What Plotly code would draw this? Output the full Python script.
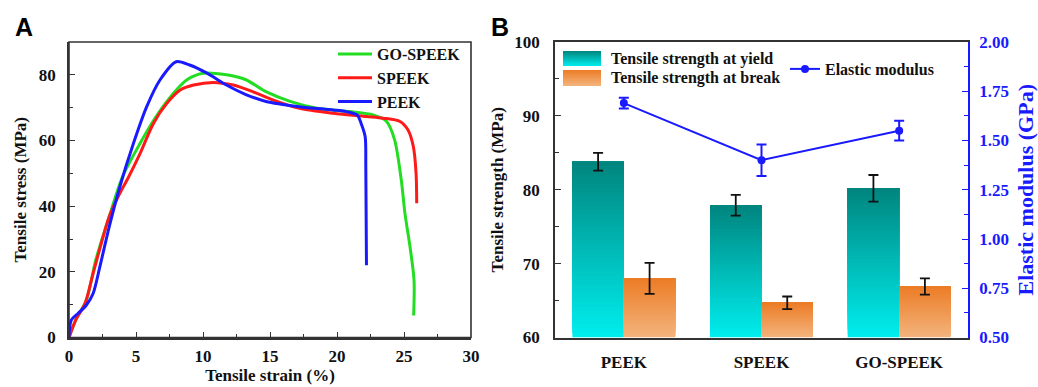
import plotly.graph_objects as go

# ---------------- Panel A data: stress-strain curves ----------------
strain_gospeek = [0, 0.5, 1.3, 2.0, 3.0, 4.0, 5.3, 6.5, 7.8, 8.8, 10.0, 11.75, 13.2, 14.7, 16.5,
                  18.5, 20.95, 22.7, 23.7, 24.3, 24.8, 25.07, 25.45, 25.75, 25.72]
stress_gospeek = [0, 5.3, 11.4, 23.6, 36.8, 49.0, 59.1, 67.3, 74.4, 78.5, 80.5, 80.0, 78.5, 74.9, 71.9,
                  69.8, 68.8, 67.8, 65.8, 60.2, 47.9, 37.8, 27.6, 17.4, 6.7]

strain_speek = [0, 0.5, 1.2, 1.8, 3.0, 3.8, 4.4, 5.3, 6.3, 7.3, 8.3, 9.3, 10.75, 12.25, 13.7, 15.2,
                17.2, 19.7, 22.2, 23.45, 24.7, 25.3, 25.7, 25.9, 25.95]
stress_speek = [0, 5.3, 10.4, 19.5, 36.8, 44.0, 48.5, 56.0, 65.2, 71.3, 75.4, 76.9, 77.7, 76.9, 74.9, 72.4,
                69.8, 68.3, 67.3, 66.8, 65.8, 63.2, 58.1, 50.0, 40.9]

strain_peek = [0, 0.17, 0.67, 1.3, 1.8, 2.3, 3.0, 3.8, 4.8, 5.8, 6.8, 8.0, 9.0, 10.3, 11.75, 13.2,
               14.7, 17.2, 19.7, 20.7, 21.5, 21.8, 22.1, 22.15, 22.2]
stress_peek = [0, 5.3, 7.3, 9.9, 13.4, 21.5, 33.7, 46.0, 59.0, 70.3, 78.5, 84.0, 83.0, 80.5, 76.9, 74.0,
               71.9, 70.3, 69.3, 68.8, 67.8, 65.2, 61.2, 52.0, 22.0]

# ---------------- Panel B data ----------------
categories = ["PEEK", "SPEEK", "GO-SPEEK"]
yield_strength = [83.8, 77.9, 80.2]
yield_err = [1.2, 1.4, 1.8]
break_strength = [68.0, 64.7, 66.9]
break_err = [2.1, 0.85, 1.1]
modulus = [1.69, 1.40, 1.55]
modulus_err = [0.027, 0.08, 0.05]

W, H = 1038, 387
FONT = "'Times New Roman', 'Liberation Serif', serif"
BF = dict(family=FONT, size=17, color="#111", weight="bold")
AXC = "#333"


def px_x(p):
    return p / W


def px_y(p):
    return 1 - p / H


def lerp(c1, c2, t):
    return "rgb(%d,%d,%d)" % tuple(round(a + (b - a) * t) for a, b in zip(c1, c2))


fig = go.Figure()

# Panel A curves
for name, xs, ys, col in [("GO-SPEEK", strain_gospeek, stress_gospeek, "#22dd22"),
                          ("SPEEK", strain_speek, stress_speek, "#ff1a1a"),
                          ("PEEK", strain_peek, stress_peek, "#1a1aff")]:
    fig.add_trace(go.Scatter(x=xs, y=ys, mode="lines", name=name,
                             line=dict(color=col, width=3, shape="spline", smoothing=0.8),
                             xaxis="x", yaxis="y", legend="legend"))

# Panel B gradient bars: overlapping bars, each from segment start to bar top
BASE = 60
N = 40
yield_top, yield_bot = (0, 133, 126), (0, 238, 238)
break_top, break_bot = (236, 124, 38), (243, 180, 125)
for vals, grp, ctop, cbot in [(yield_strength, "yield", yield_top, yield_bot),
                              (break_strength, "break", break_top, break_bot)]:
    for k in range(N):
        seg = [(v - BASE) / N for v in vals]
        base = [BASE + k * s for s in seg]
        height = [(N - k) * s for s in seg]
        t = (k + 0.5) / N
        fig.add_trace(go.Bar(x=categories, y=height, base=base, offsetgroup=grp,
                             marker=dict(color=lerp(cbot, ctop, t), line=dict(width=0)),
                             showlegend=False, hoverinfo="skip", xaxis="x2", yaxis="y2"))

# transparent full bars carrying error bars
for vals, errs, grp in [(yield_strength, yield_err, "yield"), (break_strength, break_err, "break")]:
    fig.add_trace(go.Bar(x=categories, y=[v - BASE for v in vals], base=[BASE] * 3, offsetgroup=grp,
                         marker=dict(color="rgba(0,0,0,0)", line=dict(width=0)),
                         error_y=dict(type="data", array=errs, color="#111", thickness=1.8, width=5),
                         showlegend=False, xaxis="x2", yaxis="y2"))

fig.add_trace(go.Scatter(x=categories, y=modulus, mode="lines+markers", name="Elastic modulus",
                         line=dict(color="#1a1aff", width=2),
                         marker=dict(color="#1a1aff", size=8),
                         error_y=dict(type="data", array=modulus_err, color="#1a1aff", thickness=2, width=5),
                         xaxis="x2", yaxis="y3", legend="legend2"))

# manual gradient legend for bars
shapes = [dict(type="rect", xref="x domain", yref="y domain", x0=0, x1=1, y0=0, y1=1,
               line=dict(color=AXC, width=1.6), fillcolor="rgba(0,0,0,0)", layer="above")]
annotations = []
for (y0, y1), ctop, cbot, label in [((51, 66), yield_top, yield_bot, "Tensile strength at yield"),
                                     ((70, 86), break_top, break_bot, "Tensile strength at break")]:
    M = 12
    for k in range(M):
        a = y0 + (y1 - y0) * k / M
        col = lerp(ctop, cbot, (k + 0.5) / M)
        shapes.append(dict(type="rect", xref="paper", yref="paper",
                           x0=px_x(563), x1=px_x(601), y0=px_y(y1), y1=px_y(a),
                           fillcolor=col, line=dict(width=0), layer="above"))
    annotations.append(dict(text=label, xref="paper", yref="paper", x=px_x(609), y=px_y((y0 + y1) / 2),
                            xanchor="left", yanchor="middle", showarrow=False,
                            font=dict(family=FONT, size=16, color="#111", weight="bold")))

annotations += [
    dict(text="A", xref="paper", yref="paper", x=px_x(13), y=px_y(27), xanchor="left", yanchor="middle",
         showarrow=False, font=dict(family="Liberation Sans, Arial, sans-serif", size=25, color="#000", weight="bold")),
    dict(text="B", xref="paper", yref="paper", x=px_x(489), y=px_y(27), xanchor="left", yanchor="middle",
         showarrow=False, font=dict(family="Liberation Sans, Arial, sans-serif", size=25, color="#000", weight="bold")),
]

ydom = [px_y(337.5), px_y(42)]
common = dict(showgrid=False, zeroline=False, showline=True, linecolor=AXC, linewidth=1.6,
              tickfont=BF, ticks="inside", tickcolor=AXC, tickwidth=1.4, automargin=False)

fig.update_layout(
    width=W, height=H, margin=dict(l=0, r=0, t=0, b=0, autoexpand=False),
    paper_bgcolor="white", plot_bgcolor="white",
    barmode="group", bargap=0.252, bargroupgap=0,
    showlegend=True,
    xaxis=dict(domain=[px_x(69), px_x(471)], range=[0, 30], dtick=5, ticklen=6,
               minor=dict(dtick=2.5, ticks="inside", ticklen=4, tickcolor=AXC),
               title=dict(text="Tensile strain (%)", font=BF, standoff=0), ticklabelstandoff=2,
               anchor="y", **common),
    yaxis=dict(domain=ydom, range=[0, 90], dtick=20, ticklen=6,
               minor=dict(dtick=10, ticks="inside", ticklen=4, tickcolor=AXC),
               title=dict(text="Tensile stress (MPa)", font=BF, standoff=8), ticklabelstandoff=8,
               anchor="x", **common),
    xaxis2=dict(domain=[px_x(555), px_x(968)], range=[-0.5, 2.5], type="category",
                anchor="y2", mirror=True, showgrid=False, zeroline=False, showline=True,
                linecolor=AXC, linewidth=1.6, tickfont=BF, ticks="", ticklabelstandoff=8,
                automargin=False),
    yaxis2=dict(domain=ydom, range=[60, 100], dtick=10, ticklen=6, anchor="x2",
                minor=dict(dtick=5, ticks="inside", ticklen=4, tickcolor=AXC),
                title=dict(text="Tensile strength (MPa)", font=BF, standoff=6), ticklabelstandoff=10,
                **common),
    yaxis3=dict(range=[0.5, 2.0], dtick=0.25, tickformat=".2f", overlaying="y2", side="right",
                anchor="x2", showgrid=False, zeroline=False, showline=True, linecolor="#1a1aff",
                linewidth=1.6, ticks="inside", ticklen=6, tickcolor="#1a1aff", tickwidth=1.4,
                minor=dict(dtick=0.125, ticks="inside", ticklen=4, tickcolor="#1a1aff"),
                tickfont=dict(family=FONT, size=17, color="#1a1aff", weight="bold"), ticklabelstandoff=6,
                automargin=False,
                title=dict(text="Elastic modulus (GPa)", standoff=10,
                           font=dict(family=FONT, size=22, color="#1a1aff", weight="bold"))),
    legend=dict(x=px_x(333), y=px_y(37), xanchor="left", yanchor="top", bgcolor="rgba(0,0,0,0)",
                font=dict(family=FONT, size=16, color="#111", weight="bold"), itemwidth=34,
                tracegroupgap=0),
    legend2=dict(x=px_x(785), y=px_y(69), xanchor="left", yanchor="middle", bgcolor="rgba(0,0,0,0)",
                 font=dict(family=FONT, size=16, color="#111", weight="bold"), itemwidth=30),
    shapes=shapes, annotations=annotations,
)

fig.write_html("out.html", config={"displayModeBar": False},
               post_script="document.body.style.margin='0px';document.body.style.overflow='hidden';")
